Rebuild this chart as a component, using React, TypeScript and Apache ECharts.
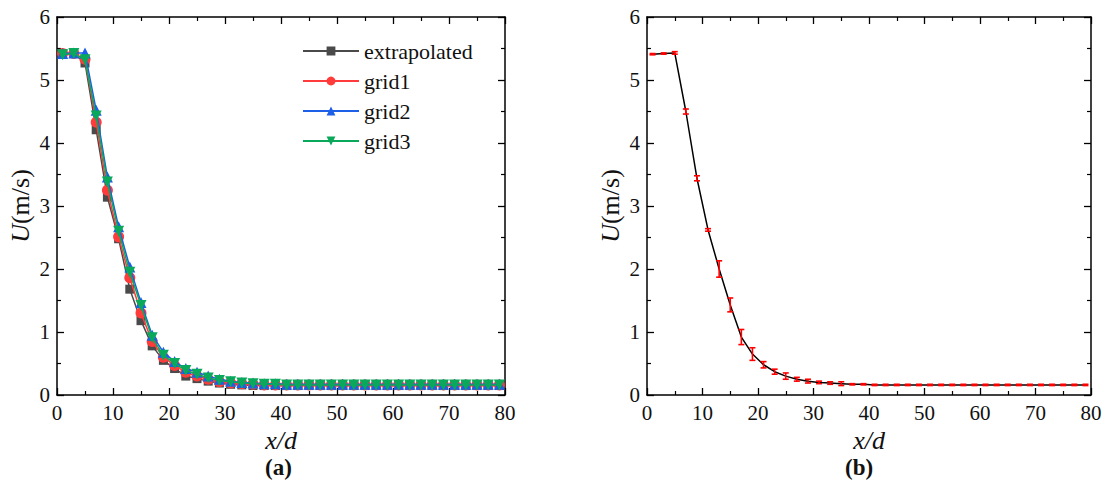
import React, { useEffect, useRef } from "react";
import * as echarts from "echarts";

const xPos = [1, 3, 5, 7, 9, 11, 13, 15, 17, 19, 21, 23, 25, 27, 29, 31, 33, 35, 37, 39, 41, 43, 45, 47, 49, 51, 53, 55, 57, 59, 61, 63, 65, 67, 69, 71, 73, 75, 77, 79];

const extrapolated = [5.42, 5.42, 5.27, 4.21, 3.14, 2.48, 1.68, 1.18, 0.78, 0.55, 0.42, 0.30, 0.26, 0.22, 0.19, 0.17, 0.16, 0.15, 0.15, 0.15, 0.15, 0.15, 0.15, 0.15, 0.15, 0.15, 0.15, 0.15, 0.15, 0.15, 0.15, 0.15, 0.15, 0.15, 0.15, 0.15, 0.15, 0.15, 0.15, 0.15];
const grid1 = [5.42, 5.42, 5.33, 4.33, 3.25, 2.51, 1.86, 1.30, 0.85, 0.60, 0.47, 0.36, 0.30, 0.25, 0.21, 0.19, 0.18, 0.17, 0.16, 0.16, 0.16, 0.16, 0.16, 0.16, 0.16, 0.16, 0.16, 0.16, 0.16, 0.16, 0.16, 0.16, 0.16, 0.16, 0.16, 0.16, 0.16, 0.16, 0.16, 0.16];
const grid2 = [5.42, 5.43, 5.43, 4.52, 3.46, 2.67, 2.03, 1.47, 0.95, 0.68, 0.53, 0.42, 0.36, 0.30, 0.25, 0.22, 0.20, 0.19, 0.18, 0.18, 0.17, 0.17, 0.17, 0.17, 0.17, 0.17, 0.17, 0.17, 0.17, 0.17, 0.17, 0.17, 0.17, 0.17, 0.17, 0.17, 0.17, 0.17, 0.17, 0.17];
const grid3 = [5.40, 5.42, 5.32, 4.43, 3.38, 2.60, 1.95, 1.42, 0.91, 0.63, 0.50, 0.39, 0.33, 0.27, 0.23, 0.21, 0.19, 0.18, 0.17, 0.17, 0.16, 0.16, 0.16, 0.16, 0.16, 0.16, 0.16, 0.16, 0.16, 0.16, 0.16, 0.16, 0.16, 0.16, 0.16, 0.16, 0.16, 0.16, 0.16, 0.16];

const meanB = [5.41, 5.42, 5.43, 4.50, 3.44, 2.62, 2.00, 1.43, 0.92, 0.65, 0.48, 0.37, 0.30, 0.25, 0.22, 0.20, 0.19, 0.18, 0.17, 0.17, 0.16, 0.16, 0.16, 0.16, 0.16, 0.16, 0.16, 0.16, 0.16, 0.16, 0.16, 0.16, 0.16, 0.16, 0.16, 0.16, 0.16, 0.16, 0.16, 0.16];
const errB = [0.01, 0.01, 0.02, 0.04, 0.04, 0.02, 0.13, 0.11, 0.12, 0.10, 0.05, 0.04, 0.05, 0.03, 0.03, 0.02, 0.02, 0.03, 0.01, 0.01, 0.01, 0.01, 0.01, 0.01, 0.01, 0.01, 0.01, 0.01, 0.01, 0.01, 0.01, 0.01, 0.01, 0.01, 0.01, 0.01, 0.01, 0.01, 0.01, 0.01];

const seriesNames = ["extrapolated", "grid1", "grid2", "grid3"];
const seriesColors = ["#4a4a4a", "#ff3b3b", "#1d5fe6", "#0aa85a"];
const seriesSymbols = ["rect", "circle", "triangle", "triangle"];
const seriesRotate = [0, 0, 0, 180];

const FONT = "'Liberation Serif', 'Times New Roman', serif";

export default function App() {
  const ref = useRef<HTMLDivElement>(null);
  useEffect(() => {
    if (!ref.current) return;
    const chart = echarts.init(ref.current, null, { renderer: "svg" });
    const values = [extrapolated, grid1, grid2, grid3];

    const grids = [
      { left: 57, top: 17, width: 448, height: 378 },
      { left: 647, top: 17, width: 444, height: 378 },
    ];

    const tickStyle = { show: true, inside: true, length: 7, lineStyle: { color: "#000", width: 1.3 } };
    const minorStyle = { show: true, splitNumber: 2, length: 4, lineStyle: { color: "#000", width: 1.2 } };
    const labelStyle = { color: "#111", fontFamily: FONT, fontSize: 21, margin: 7 };

    const xAxes: any[] = [];
    const yAxes: any[] = [];
    [0, 1].forEach((g) => {
      xAxes.push({
        type: "value", gridIndex: g, min: 0, max: 80, interval: 10, position: "bottom",
        axisLine: { show: true, onZero: false, lineStyle: { color: "#000", width: 1.5 } },
        axisTick: tickStyle, minorTick: minorStyle, splitLine: { show: false },
        axisLabel: labelStyle,
        name: "x/d", nameLocation: "middle", nameGap: 27,
        nameTextStyle: { fontFamily: FONT, fontSize: 26, fontStyle: "italic", color: "#111", lineHeight: 26 },
      });
      xAxes.push({
        type: "value", gridIndex: g, min: 0, max: 80, interval: 10, position: "top",
        axisLine: { show: true, onZero: false, lineStyle: { color: "#000", width: 1.5 } },
        axisTick: tickStyle, minorTick: minorStyle, splitLine: { show: false },
        axisLabel: { show: false },
      });
      yAxes.push({
        type: "value", gridIndex: g, min: 0, max: 6, interval: 1, position: "left",
        axisLine: { show: true, onZero: false, lineStyle: { color: "#000", width: 1.5 } },
        axisTick: tickStyle, minorTick: minorStyle, splitLine: { show: false },
        axisLabel: labelStyle,
        name: "{i|U}(m/s)", nameLocation: "middle", nameGap: 24,
        nameTextStyle: {
          fontFamily: FONT, fontSize: 26, color: "#111",
          rich: { i: { fontFamily: FONT, fontSize: 26, fontStyle: "italic", color: "#111" } },
        },
      });
      yAxes.push({
        type: "value", gridIndex: g, min: 0, max: 6, interval: 1, position: "right",
        axisLine: { show: true, onZero: false, lineStyle: { color: "#000", width: 1.5 } },
        axisTick: tickStyle, minorTick: minorStyle, splitLine: { show: false },
        axisLabel: { show: false },
      });
    });

    const lineSeries = seriesNames.map((name, i) => ({
      name,
      type: "line",
      xAxisIndex: 0,
      yAxisIndex: 0,
      data: xPos.map((x, k) => [x, values[i][k]]),
      symbol: seriesSymbols[i],
      symbolSize: i === 0 ? 9 : 11,
      symbolRotate: seriesRotate[i],
      showSymbol: true,
      itemStyle: { color: seriesColors[i] },
      lineStyle: { color: seriesColors[i], width: 1.5 },
      z: 2 + i,
    }));

    const option: any = {
      animation: false,
      backgroundColor: "#ffffff",
      textStyle: { fontFamily: FONT },
      grid: grids,
      xAxis: xAxes,
      yAxis: yAxes,
      legend: {
        data: seriesNames,
        orient: "vertical",
        left: 297,
        top: 35,
        itemWidth: 56,
        itemHeight: 11,
        itemGap: 8,
        textStyle: { fontFamily: FONT, fontSize: 22, color: "#111" },
      },
      series: [
        ...lineSeries,
        {
          name: "mean",
          type: "line",
          xAxisIndex: 2,
          yAxisIndex: 2,
          data: xPos.map((x, k) => [x, meanB[k]]),
          symbol: "none",
          lineStyle: { color: "#000", width: 1.5 },
          itemStyle: { color: "#000" },
          z: 2,
        },
        {
          name: "error",
          type: "custom",
          xAxisIndex: 2,
          yAxisIndex: 2,
          data: xPos.map((x, k) => [x, meanB[k] - errB[k], meanB[k] + errB[k]]),
          encode: { x: 0, y: [1, 2] },
          z: 5,
          renderItem: (params: any, api: any) => {
            const x = api.value(0);
            const lo = api.coord([x, api.value(1)]);
            const hi = api.coord([x, api.value(2)]);
            const hw = 3;
            const st = { stroke: "#ff0000", lineWidth: 1.6 };
            return {
              type: "group",
              children: [
                { type: "line", shape: { x1: lo[0], y1: lo[1], x2: hi[0], y2: hi[1] }, style: st },
                { type: "line", shape: { x1: lo[0] - hw, y1: lo[1], x2: lo[0] + hw, y2: lo[1] }, style: st },
                { type: "line", shape: { x1: hi[0] - hw, y1: hi[1], x2: hi[0] + hw, y2: hi[1] }, style: st },
              ],
            };
          },
        },
      ],
      graphic: [
        { type: "text", left: 265, top: 456, style: { text: "(a)", fontFamily: FONT, fontSize: 23, fontWeight: "bold", fill: "#111" } },
        { type: "text", left: 845, top: 456, style: { text: "(b)", fontFamily: FONT, fontSize: 23, fontWeight: "bold", fill: "#111" } },
      ],
    };
    chart.setOption(option);
    return () => chart.dispose();
  }, []);
  return <div ref={ref} style={{ width: 1107, height: 497, position: "absolute", left: 0, top: 0 }} />;
}
